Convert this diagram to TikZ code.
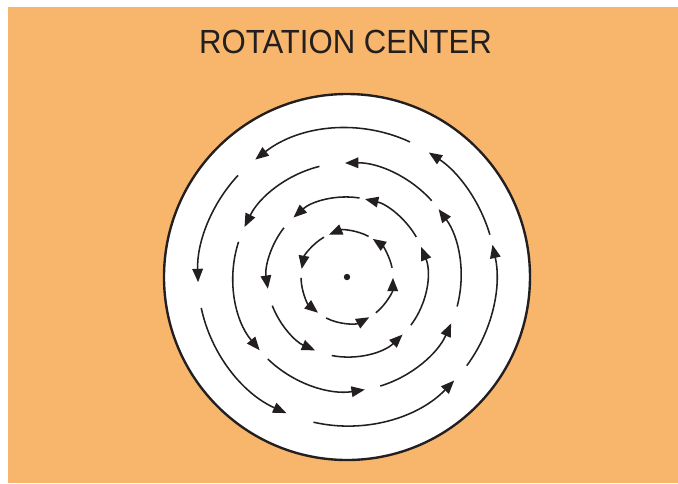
\documentclass[tikz,border=0pt]{standalone}
\usepackage{fontspec}
\setmainfont{Liberation Sans}
\usetikzlibrary{arrows.meta}
\definecolor{rcorange}{RGB}{248,182,108}
\definecolor{rcink}{RGB}{35,31,32}
\tikzset{
  flow/.style={draw=rcink,line width=1.1pt,-{Triangle[length=9.5pt,width=7.5pt]}},
  rim/.style={draw=rcink,line width=1.7pt,fill=white},
}

\begin{document}
\begin{tikzpicture}[x=0.025cm,y=0.025cm]
  \useasboundingbox (-347,-206) rectangle (331,277);
  \fill[rcorange] (-339,-206) rectangle (331,270);
  \node[font=\fontsize{23.8}{28}\selectfont,text=rcink,inner sep=0pt] (title) at (-1.5,235)
    {\scalebox{0.93}[1]{ROTATION CENTER}};
  \coordinate (centre) at (0,0);
  \draw[rim] (centre) circle[radius=183];
  \fill[rcink] (centre) circle[radius=3.2];
  % radius / start angle / end angle of every arrow, inner ring first
  \foreach \r/\s/\e in {46/62/113, 46/120/170, 46/181/231, 46/243/299, 46/309/359, 46/11.5/56,
                        80/81/132, 80/142/188.5, 80/201/246.5, 80/259/314, 80/323/382, 80/30/77,
                        114/104/154, 114/162/220, 114/226/279, 114/287/336, 114/345/396.5, 114/42/91,
                        149/65/128, 149/137/182, 149/192/246, 149/257/316, 149/323.5/372.5, 149/16.5/56.7}
    \draw[flow] ([shift={(\s:\r)}]centre) arc[start angle=\s, end angle=\e, radius=\r];
\end{tikzpicture}
\end{document}
